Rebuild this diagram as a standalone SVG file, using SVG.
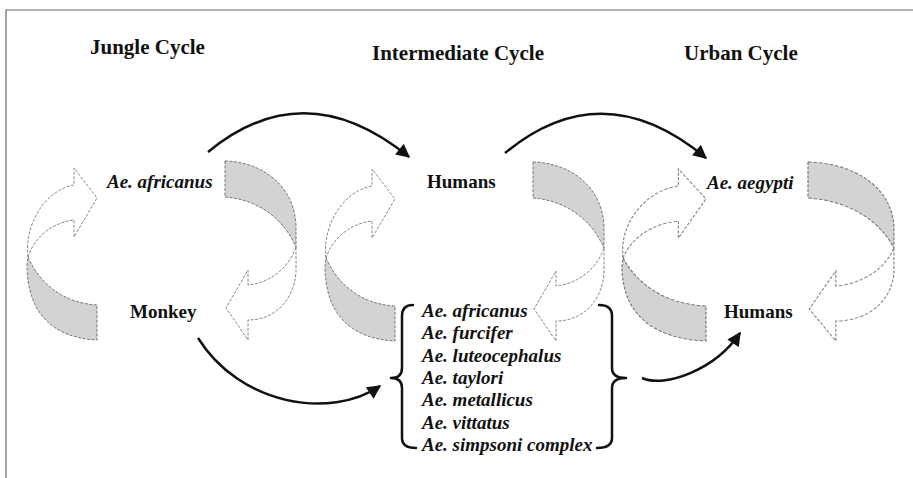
<svg xmlns="http://www.w3.org/2000/svg" xmlns:xlink="http://www.w3.org/1999/xlink" width="913" height="478" viewBox="0 0 913 478">
<style>
.t{font-family:"Liberation Serif","Times New Roman",serif;font-weight:bold;fill:#111;}
.ttl{font-size:21px;}
.lb{font-size:19px;}
.it{font-style:italic;}
.sh{fill:#d3d3d3;stroke:#777;stroke-width:1;stroke-dasharray:3 1.5;}
.wh{fill:#fff;stroke:#888;stroke-width:1;stroke-dasharray:3 1.5;}
.con{fill:none;stroke:#111;stroke-width:2.5;}
.br{fill:none;stroke:#111;stroke-width:2.5;stroke-linecap:round;stroke-linejoin:round;}
</style>
<defs>
<marker id="ah" viewBox="0 0 10 10" refX="9" refY="5" markerWidth="6" markerHeight="5.5" orient="auto" markerUnits="strokeWidth">
<path d="M0,0 L10,5 L0,10 Z" fill="#111"/>
</marker>
<g id="leftArrow">
<path class="sh" d="M1,257 C11,280 33,303 70,305 L70,340 C28,338 0,315 0,265 Z"/>
<path class="wh" d="M1,257 C-3,225 18,190 47,185 L47,168 L70,198 L47,237 L47,220 C28,222 8,235 1,257 Z"/>
</g>
<g id="rightArrow">
<path class="sh" d="M0,161 C37,162 69,185 71,225 L71,247 C60,222 37,200 0,197 Z"/>
<path class="wh" d="M71,247 L71,272 C69,300 50,320 23,320 L23,340 L1,308 L23,270 L23,285 C43,283 63,270 71,247 Z"/>
</g>
</defs>
<rect width="913" height="478" fill="#fff"/>
<g id="frame" fill="none" stroke="#666" stroke-width="1.2">
<path d="M6,478 L6,10 L913,10"/>
</g>

<g id="title-jungle"><text class="t ttl" x="90" y="54">Jungle Cycle</text></g>
<g id="title-intermediate"><text class="t ttl" x="372" y="60">Intermediate Cycle</text></g>
<g id="title-urban"><text class="t ttl" x="684" y="60">Urban Cycle</text></g>

<g id="cycle-jungle">
<use xlink:href="#leftArrow" transform="translate(27,0)"/>
<use xlink:href="#rightArrow" transform="translate(225,0)"/>
</g>
<g id="cycle-intermediate">
<use xlink:href="#leftArrow" transform="translate(325,1)"/>
<use xlink:href="#rightArrow" transform="translate(533,1)"/>
</g>
<g id="cycle-urban">
<use xlink:href="#leftArrow" transform="translate(622,1) scale(1.2,1)"/>
<use xlink:href="#rightArrow" transform="translate(808,1) scale(1.21,1)"/>
</g>

<g id="node-ae-africanus"><text class="t lb it" x="107" y="188">Ae. africanus</text></g>
<g id="node-monkey"><text class="t lb" x="130" y="318">Monkey</text></g>
<g id="node-humans-intermediate"><text class="t lb" x="427" y="188">Humans</text></g>
<g id="node-ae-aegypti"><text class="t lb it" x="707" y="189">Ae. aegypti</text></g>
<g id="node-humans-urban"><text class="t lb" x="724" y="318">Humans</text></g>

<g id="node-species-list">
<path class="br" d="M413,305 Q402,305 402,316 L402,368 Q402,378 391,378 Q402,378 402,388 L402,438 Q402,448 416,448"/>
<path class="br" d="M599,305 Q612,305 612,316 L612,368 Q612,378 626,378 Q612,378 612,388 L612,438 Q612,448 597,448"/>
<text class="t lb it" x="422" y="317">Ae. africanus</text>
<text class="t lb it" x="422" y="339">Ae. furcifer</text>
<text class="t lb it" x="422" y="362">Ae. luteocephalus</text>
<text class="t lb it" x="422" y="384">Ae. taylori</text>
<text class="t lb it" x="422" y="406">Ae. metallicus</text>
<text class="t lb it" x="422" y="429">Ae. vittatus</text>
<text class="t lb it" x="422" y="451">Ae. simpsoni complex</text>
</g>

<g id="connectors">
<path class="con" marker-end="url(#ah)" d="M208,152 Q305,72 409,157"/>
<path class="con" marker-end="url(#ah)" d="M505,153 Q603,72 706,158"/>
<path class="con" marker-end="url(#ah)" d="M198,338 C240,405 330,420 380,386"/>
<path class="con" marker-end="url(#ah)" d="M642,378 C665,388 715,370 740,333"/>
</g>
</svg>
